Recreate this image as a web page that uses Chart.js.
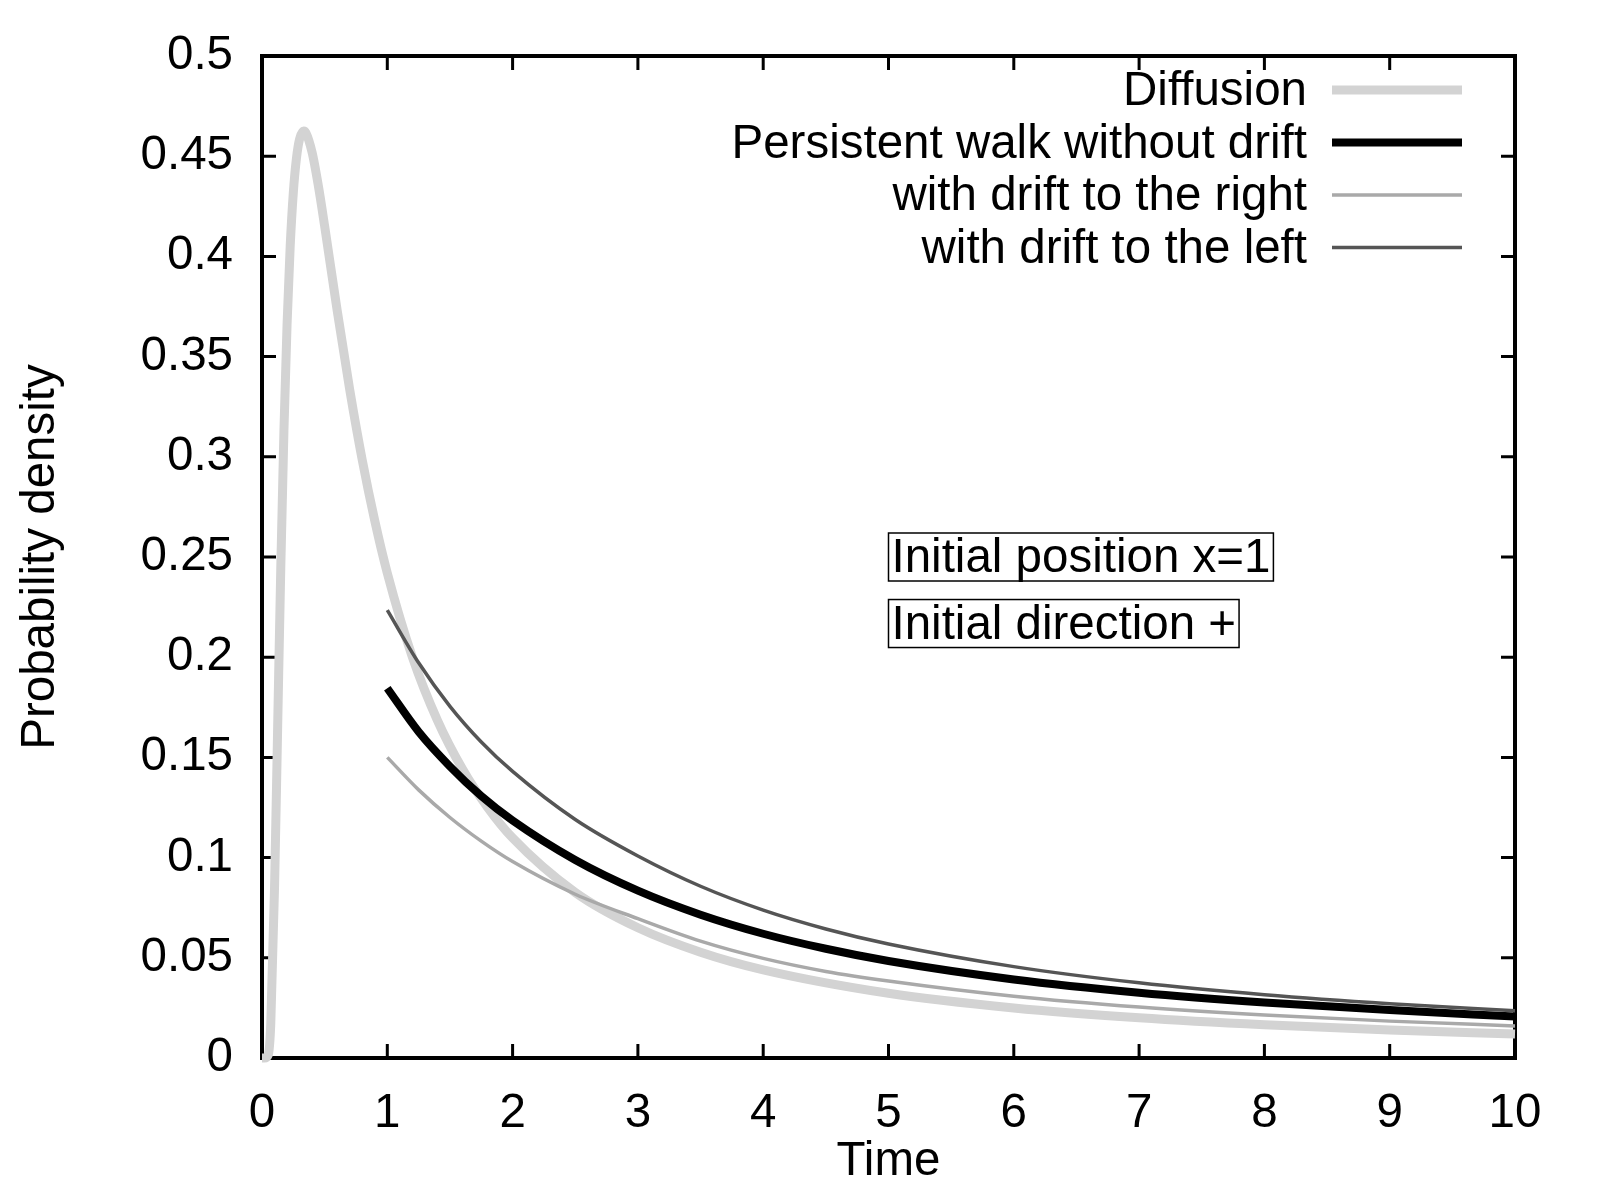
<!DOCTYPE html>
<html lang="en">
<head>
    <meta charset="UTF-8">
    <title>First passage time density</title>
    <script src="https://cdn.jsdelivr.net/npm/chart.js"></script>
    <style>
        html, body { margin: 0; padding: 0; background: #fff; }
        canvas { display: block; }
    </style>
</head>
<body>
    <canvas id="fptChart" width="1600" height="1200"></canvas>

    <script>
        // time grid of the diffusion curve and its density values
        const timeDiff = [0, 0.02, 0.05, 0.07, 0.1, 0.125, 0.15, 0.175, 0.2, 0.225, 0.25, 0.275, 0.3, 0.333, 0.35, 0.4, 0.45, 0.5,
            0.6, 0.7, 0.8, 0.9, 1, 1.2, 1.4, 1.6, 1.8, 2, 2.5, 3, 3.5, 4, 5, 6, 7, 8, 9, 10];
        const diffusion = [0, 0, 0.0016, 0.017, 0.085, 0.1653, 0.245, 0.313, 0.3661, 0.4051, 0.4319, 0.449, 0.4586, 0.4626, 0.4617, 0.4518, 0.4351, 0.4151,
            0.373, 0.3335, 0.2984, 0.2681, 0.242, 0.2001, 0.1685, 0.1442, 0.1251, 0.1098, 0.0826, 0.065, 0.0528, 0.044, 0.0323, 0.025, 0.0201, 0.0166, 0.014, 0.012];

        // persistent walk curves start at t = 1
        const timeWalk = [1, 1.25, 1.5, 1.75, 2, 2.5, 3, 3.5, 4, 4.5, 5, 6, 7, 8, 9, 10];
        const noDrift = [0.1845, 0.1628, 0.1455, 0.1307, 0.1185, 0.0988, 0.0835, 0.0715, 0.062, 0.0545, 0.0484, 0.0392, 0.0326, 0.0277, 0.0239, 0.0207];
        const driftRight = [0.150, 0.1338, 0.120, 0.1082, 0.098, 0.0817, 0.0695, 0.0583, 0.0497, 0.0432, 0.0384, 0.0308, 0.0254, 0.0214, 0.0184, 0.016];
        const driftLeft = [0.2235, 0.1972, 0.1755, 0.1577, 0.143, 0.119, 0.1008, 0.0857, 0.0738, 0.0644, 0.0569, 0.0456, 0.0375, 0.0316, 0.0271, 0.0236];

        const xTicks = [0, 1, 2, 3, 4, 5, 6, 7, 8, 9, 10];
        const xTickLabels = ['0', '1', '2', '3', '4', '5', '6', '7', '8', '9', '10'];
        const yTicks = [0, 0.05, 0.1, 0.15, 0.2, 0.25, 0.3, 0.35, 0.4, 0.45, 0.5];
        const yTickLabels = ['0', '0.05', '0.1', '0.15', '0.2', '0.25', '0.3', '0.35', '0.4', '0.45', '0.5'];

        const notes = ['Initial position x=1', 'Initial direction +'];

        const FONT = { family: '"Liberation Sans", Arial, sans-serif', size: 47.5 };
        const fontStr = `${FONT.size}px ${FONT.family}`;

        const toPoints = (xs, ys) => xs.map((x, i) => ({ x: x, y: ys[i] }));

        // border box + inward ticks on all four sides (gnuplot look)
        const framePlugin = {
            id: 'frame',
            beforeDatasetsDraw(chart) {
                const { ctx, chartArea: a, scales } = chart;
                const len = 14;
                ctx.save();
                ctx.strokeStyle = '#000';
                ctx.lineWidth = 3;
                ctx.beginPath();
                xTicks.forEach(v => {
                    const px = scales.x.getPixelForValue(v);
                    ctx.moveTo(px, a.bottom); ctx.lineTo(px, a.bottom - len);
                    ctx.moveTo(px, a.top); ctx.lineTo(px, a.top + len);
                });
                yTicks.forEach(v => {
                    const py = scales.y.getPixelForValue(v);
                    ctx.moveTo(a.left, py); ctx.lineTo(a.left + len, py);
                    ctx.moveTo(a.right, py); ctx.lineTo(a.right - len, py);
                });
                ctx.stroke();
                ctx.lineWidth = 4;
                ctx.strokeRect(a.left, a.top, a.right - a.left, a.bottom - a.top);
                ctx.restore();
            },
            afterDatasetsDraw(chart) {
                const { ctx, chartArea: a, scales } = chart;
                ctx.save();
                ctx.font = fontStr;
                ctx.fillStyle = '#000';

                // legend, right aligned inside the plot
                const textRight = a.right - 208;
                const sampleL = a.right - 183;
                const sampleR = a.right - 53;
                ctx.textAlign = 'right';
                ctx.textBaseline = 'middle';
                chart.data.datasets.forEach((ds, i) => {
                    const y = a.top + 34 + i * 52.5;
                    ctx.fillText(ds.label, textRight, y + 2);
                    ctx.strokeStyle = ds.borderColor;
                    ctx.lineWidth = ds.borderWidth;
                    ctx.beginPath();
                    ctx.moveTo(sampleL, y);
                    ctx.lineTo(sampleR, y);
                    ctx.stroke();
                });

                // boxed notes
                const noteY = [0.25, 0.2168];
                ctx.textAlign = 'left';
                notes.forEach((txt, i) => {
                    const px = scales.x.getPixelForValue(5);
                    const py = scales.y.getPixelForValue(noteY[i]);
                    const w = ctx.measureText(txt).width;
                    ctx.fillText(txt, px + 3, py + 2);
                    ctx.strokeStyle = '#000';
                    ctx.lineWidth = 1.5;
                    ctx.strokeRect(px, py - 24, w + 6, 48);
                });
                ctx.restore();
            }
        };

        const ctx = document.getElementById('fptChart').getContext('2d');
        new Chart(ctx, {
            type: 'line',
            data: {
                datasets: [
                    {
                        label: 'Diffusion',
                        data: toPoints(timeDiff, diffusion),
                        borderColor: '#d3d3d3',
                        borderWidth: 9,
                        order: 4
                    },
                    {
                        label: 'Persistent walk without drift',
                        data: toPoints(timeWalk, noDrift),
                        borderColor: '#000000',
                        borderWidth: 8,
                        order: 3
                    },
                    {
                        label: 'with drift to the right',
                        data: toPoints(timeWalk, driftRight),
                        borderColor: '#a9a9a9',
                        borderWidth: 3.5,
                        order: 2
                    },
                    {
                        label: 'with drift to the left',
                        data: toPoints(timeWalk, driftLeft),
                        borderColor: '#555555',
                        borderWidth: 3.5,
                        order: 1
                    }
                ]
            },
            options: {
                responsive: false,
                animation: false,
                devicePixelRatio: 1,
                layout: { padding: { left: 0, top: 56, right: 85, bottom: 0 } },
                datasets: {
                    line: { cubicInterpolationMode: 'monotone', clip: false, pointRadius: 0 }
                },
                plugins: {
                    legend: { display: false },
                    tooltip: { enabled: false }
                },
                scales: {
                    x: {
                        type: 'linear',
                        min: 0,
                        max: 10,
                        afterFit: s => { s.height = 142; },
                        afterBuildTicks: s => { s.ticks = xTicks.map(v => ({ value: v })); },
                        grid: { display: false },
                        border: { display: false },
                        ticks: {
                            padding: 19,
                            font: FONT,
                            color: '#000',
                            maxRotation: 0,
                            autoSkip: false,
                            callback: (v, i) => xTickLabels[i]
                        },
                        title: { display: true, text: 'Time', font: FONT, color: '#000', padding: { top: 0, bottom: 10 } }
                    },
                    y: {
                        type: 'linear',
                        min: 0,
                        max: 0.5,
                        afterFit: s => { s.width = 262; },
                        afterBuildTicks: s => { s.ticks = yTicks.map(v => ({ value: v })); },
                        grid: { display: false },
                        border: { display: false },
                        ticks: {
                            padding: 21,
                            font: FONT,
                            color: '#000',
                            autoSkip: false,
                            callback: (v, i) => yTickLabels[i]
                        },
                        title: { display: true, text: 'Probability density', font: FONT, color: '#000', padding: { top: 12, bottom: 0 } }
                    }
                }
            },
            plugins: [framePlugin]
        });
    </script>
</body>
</html>
